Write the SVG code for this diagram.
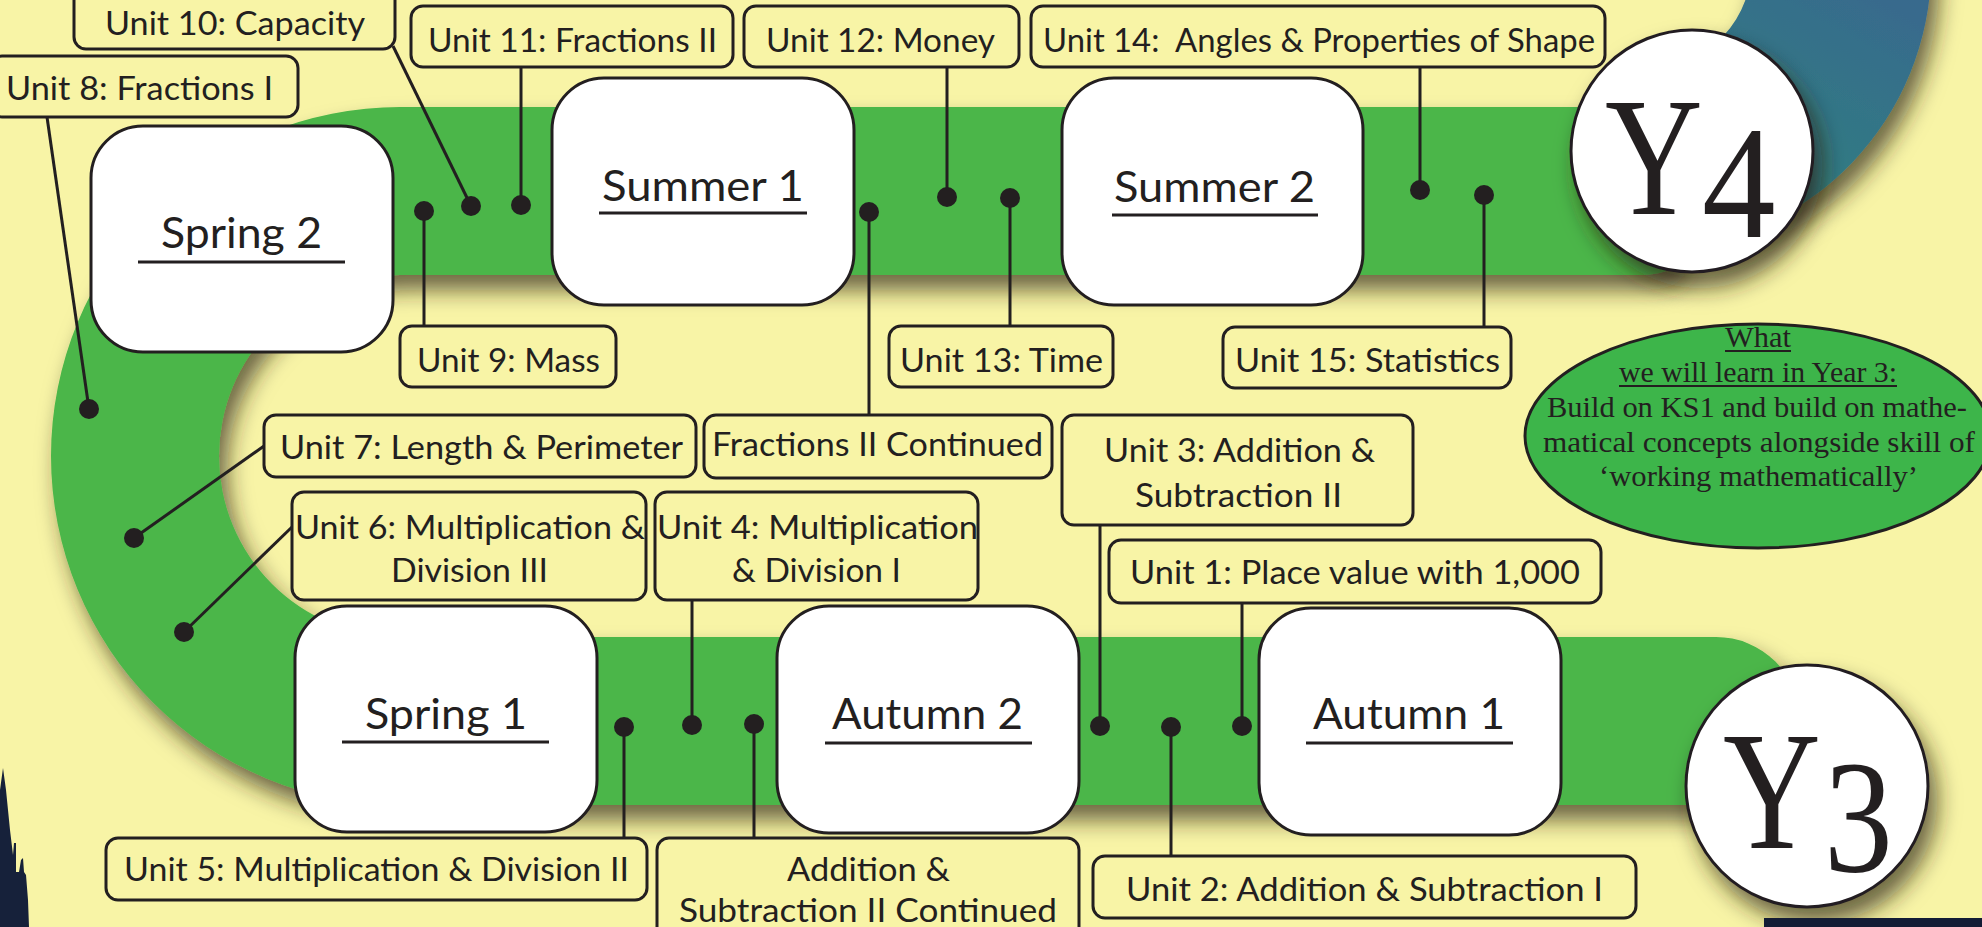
<svg xmlns="http://www.w3.org/2000/svg" width="1982" height="927" viewBox="0 0 1982 927">
<defs>
<style>
.lbl{fill:#F8F4A6;stroke:#231F20;stroke-width:3}
.node{fill:#FFFFFF;stroke:#231F20;stroke-width:3}
.t{font-family:Lato,"Noto Sans",sans-serif;font-size:33px;fill:#231F20}
.nt{font-family:Lato,"Noto Sans",sans-serif;font-size:42px;fill:#231F20}
.ul{stroke:#231F20;stroke-width:3}
.conn line{stroke:#231F20;stroke-width:3}
.dot{fill:#231F20}
.serif{font-family:"Liberation Serif","DejaVu Serif",serif;fill:#231F20}
.yc{fill:#FFFFFF;stroke:#231F20;stroke-width:3}
</style>
<filter id="sh" filterUnits="userSpaceOnUse" x="-100" y="-200" width="2200" height="1300">
<feDropShadow dx="8" dy="15" stdDeviation="11" flood-color="#2a2510" flood-opacity="0.68"/>
</filter>
<linearGradient id="blue" gradientUnits="userSpaceOnUse" x1="1780" y1="220" x2="1900" y2="0">
<stop offset="0" stop-color="#2E8080"/>
<stop offset="1" stop-color="#386A8D"/>
</linearGradient>
</defs>
<rect x="0" y="0" width="1982" height="927" fill="#F8F4A6"/>

<g id="track" filter="url(#sh)">
<path d="M1927,-84 A285,285 0 0 1 1715,242 L1670,66 A103,103 0 0 0 1748,-61 Z" fill="url(#blue)"/>
<path d="M1680,107 L400,107 A349,349 0 0 0 400,805 L1716,805 A84,84 0 0 0 1716,637 L400,637 A181,181 0 0 1 400,275 L1640,275 C1660,275 1672,270 1680,262 Z" fill="#4BB648"/>
</g>

<g id="y4" filter="url(#sh)">
<circle class="yc" cx="1692" cy="151" r="121"/>
</g>
<g id="y4-label">
<text class="serif" font-size="169" transform="translate(1605,214) scale(0.8,1)">Y</text>
<text class="serif" font-size="160" transform="translate(1702,237) scale(0.92,1)">4</text>
</g>
<g id="y3" filter="url(#sh)">
<circle class="yc" cx="1807" cy="786" r="121"/>
</g>
<g id="y3-label">
<text class="serif" font-size="169" transform="translate(1723,848) scale(0.8,1)">Y</text>
<text class="serif" font-size="162" transform="translate(1824,871) scale(0.85,1)">3</text>
</g>

<g id="decor">
<polygon points="0,927 0,790 3,768 6,790 10,830 13,855 14,843 16,843 16,872 19,872 21,860 23,858 24,872 26,875 28,900 29,927" fill="#16213A"/>
<rect x="1764" y="918" width="218" height="9" fill="#131C35"/>
</g>

<g id="connectors" class="conn">
<line x1="424" y1="211" x2="424" y2="326"/>
<line x1="471" y1="206" x2="393" y2="46"/>
<line x1="521" y1="205" x2="521" y2="67"/>
<line x1="869" y1="212" x2="869" y2="415"/>
<line x1="947" y1="197" x2="947" y2="67"/>
<line x1="1010" y1="198" x2="1010" y2="326"/>
<line x1="1420" y1="190" x2="1420" y2="67"/>
<line x1="1484" y1="195" x2="1484" y2="327"/>
<line x1="89" y1="409" x2="47" y2="117"/>
<line x1="134" y1="538" x2="264" y2="446"/>
<line x1="184" y1="632" x2="292" y2="527"/>
<line x1="624" y1="727" x2="624" y2="838"/>
<line x1="692" y1="725" x2="692" y2="600"/>
<line x1="754" y1="724" x2="754" y2="838"/>
<line x1="1100" y1="726" x2="1100" y2="525"/>
<line x1="1171" y1="727" x2="1171" y2="856"/>
<line x1="1242" y1="726" x2="1242" y2="603"/>
<circle class="dot" cx="424" cy="211" r="10"/>
<circle class="dot" cx="471" cy="206" r="10"/>
<circle class="dot" cx="521" cy="205" r="10"/>
<circle class="dot" cx="869" cy="212" r="10"/>
<circle class="dot" cx="947" cy="197" r="10"/>
<circle class="dot" cx="1010" cy="198" r="10"/>
<circle class="dot" cx="1420" cy="190" r="10"/>
<circle class="dot" cx="1484" cy="195" r="10"/>
<circle class="dot" cx="89" cy="409" r="10"/>
<circle class="dot" cx="134" cy="538" r="10"/>
<circle class="dot" cx="184" cy="632" r="10"/>
<circle class="dot" cx="624" cy="727" r="10"/>
<circle class="dot" cx="692" cy="725" r="10"/>
<circle class="dot" cx="754" cy="724" r="10"/>
<circle class="dot" cx="1100" cy="726" r="10"/>
<circle class="dot" cx="1171" cy="727" r="10"/>
<circle class="dot" cx="1242" cy="726" r="10"/>
</g>

<g id="spring2">
<rect class="node" x="91" y="126" width="302" height="226" rx="52"/>
<text class="nt" x="161" y="248" textLength="161" lengthAdjust="spacingAndGlyphs">Spring 2</text>
<line class="ul" x1="138" y1="262" x2="345" y2="262"/>
</g>
<g id="summer1">
<rect class="node" x="552" y="78" width="302" height="227" rx="52"/>
<text class="nt" x="602" y="201" textLength="202" lengthAdjust="spacingAndGlyphs">Summer 1</text>
<line class="ul" x1="599" y1="213" x2="807" y2="213"/>
</g>
<g id="summer2">
<rect class="node" x="1062" y="78" width="301" height="227" rx="52"/>
<text class="nt" x="1114" y="202" textLength="201" lengthAdjust="spacingAndGlyphs">Summer 2</text>
<line class="ul" x1="1112" y1="215" x2="1318" y2="215"/>
</g>
<g id="spring1">
<rect class="node" x="295" y="606" width="302" height="226" rx="52"/>
<text class="nt" x="365" y="729" textLength="162" lengthAdjust="spacingAndGlyphs">Spring 1</text>
<line class="ul" x1="342" y1="742" x2="549" y2="742"/>
</g>
<g id="autumn2">
<rect class="node" x="777" y="606" width="302" height="227" rx="52"/>
<text class="nt" x="832" y="729" textLength="191" lengthAdjust="spacingAndGlyphs">Autumn 2</text>
<line class="ul" x1="825" y1="743" x2="1032" y2="743"/>
</g>
<g id="autumn1">
<rect class="node" x="1259" y="608" width="302" height="227" rx="52"/>
<text class="nt" x="1313" y="729" textLength="192" lengthAdjust="spacingAndGlyphs">Autumn 1</text>
<line class="ul" x1="1306" y1="743" x2="1513" y2="743"/>
</g>

<g id="unit10">
<rect class="lbl" x="74" y="-14" width="321" height="63" rx="12"/>
<text class="t" x="105" y="35" textLength="260" lengthAdjust="spacingAndGlyphs">Unit 10: Capacity</text>
</g>
<g id="unit11">
<rect class="lbl" x="411" y="6" width="322" height="61" rx="12"/>
<text class="t" x="428" y="52" textLength="289" lengthAdjust="spacingAndGlyphs">Unit 11: Fractions II</text>
</g>
<g id="unit12">
<rect class="lbl" x="744" y="6" width="275" height="61" rx="12"/>
<text class="t" x="766" y="52" textLength="229" lengthAdjust="spacingAndGlyphs">Unit 12: Money</text>
</g>
<g id="unit14">
<rect class="lbl" x="1031" y="6" width="574" height="61" rx="12"/>
<text class="t" x="1043" y="52" textLength="552" lengthAdjust="spacingAndGlyphs" xml:space="preserve">Unit 14:  Angles &amp; Properties of Shape</text>
</g>
<g id="unit8">
<rect class="lbl" x="-10" y="56" width="308" height="61" rx="12"/>
<text class="t" x="6" y="100" textLength="267" lengthAdjust="spacingAndGlyphs">Unit 8: Fractions I</text>
</g>
<g id="unit9">
<rect class="lbl" x="400" y="326" width="216" height="61" rx="12"/>
<text class="t" x="417" y="372" textLength="183" lengthAdjust="spacingAndGlyphs">Unit 9: Mass</text>
</g>
<g id="unit13">
<rect class="lbl" x="889" y="326" width="224" height="61" rx="12"/>
<text class="t" x="900" y="372" textLength="203" lengthAdjust="spacingAndGlyphs">Unit 13: Time</text>
</g>
<g id="unit15">
<rect class="lbl" x="1223" y="327" width="288" height="61" rx="12"/>
<text class="t" x="1235" y="372" textLength="265" lengthAdjust="spacingAndGlyphs">Unit 15: Statistics</text>
</g>
<g id="unit7">
<rect class="lbl" x="264" y="415" width="432" height="62" rx="12"/>
<text class="t" x="280" y="459" textLength="403" lengthAdjust="spacingAndGlyphs">Unit 7: Length &amp; Perimeter</text>
</g>
<g id="fractions2cont">
<rect class="lbl" x="704" y="415" width="348" height="63" rx="12"/>
<text class="t" x="712" y="456" textLength="331" lengthAdjust="spacingAndGlyphs">Fractions II Continued</text>
</g>
<g id="unit3">
<rect class="lbl" x="1062" y="415" width="351" height="110" rx="12"/>
<text class="t" x="1104" y="462" textLength="271" lengthAdjust="spacingAndGlyphs">Unit 3: Addition &amp;</text>
<text class="t" x="1135" y="507" textLength="207" lengthAdjust="spacingAndGlyphs">Subtraction II</text>
</g>
<g id="unit6">
<rect class="lbl" x="292" y="492" width="354" height="108" rx="12"/>
<text class="t" x="295" y="539" textLength="350" lengthAdjust="spacingAndGlyphs">Unit 6: Multiplication &amp;</text>
<text class="t" x="391" y="582" textLength="157" lengthAdjust="spacingAndGlyphs">Division III</text>
</g>
<g id="unit4">
<rect class="lbl" x="655" y="492" width="323" height="108" rx="12"/>
<text class="t" x="657" y="539" textLength="321" lengthAdjust="spacingAndGlyphs">Unit 4: Multiplication</text>
<text class="t" x="732" y="582" textLength="169" lengthAdjust="spacingAndGlyphs">&amp; Division I</text>
</g>
<g id="unit1">
<rect class="lbl" x="1109" y="540" width="492" height="63" rx="12"/>
<text class="t" x="1130" y="584" textLength="450" lengthAdjust="spacingAndGlyphs">Unit 1: Place value with 1,000</text>
</g>
<g id="unit5">
<rect class="lbl" x="106" y="838" width="541" height="62" rx="12"/>
<text class="t" x="124" y="881" textLength="505" lengthAdjust="spacingAndGlyphs">Unit 5: Multiplication &amp; Division II</text>
</g>
<g id="addsub2cont">
<rect class="lbl" x="657" y="838" width="422" height="110" rx="12"/>
<text class="t" x="787" y="881" textLength="163" lengthAdjust="spacingAndGlyphs">Addition &amp;</text>
<text class="t" x="679" y="922" textLength="378" lengthAdjust="spacingAndGlyphs">Subtraction II Continued</text>
</g>
<g id="unit2">
<rect class="lbl" x="1093" y="856" width="543" height="62" rx="12"/>
<text class="t" x="1126" y="901" textLength="477" lengthAdjust="spacingAndGlyphs">Unit 2: Addition &amp; Subtraction I</text>
</g>

<g id="summary">
<ellipse cx="1758" cy="436" rx="233" ry="112" fill="#3DB54A" stroke="#231F20" stroke-width="3"/>
<text class="serif" font-size="30" x="1725" y="347" textLength="66" lengthAdjust="spacingAndGlyphs">What</text>
<line class="ul" x1="1725" y1="351" x2="1791" y2="351" style="stroke-width:2"/>
<text class="serif" font-size="30" x="1619" y="382" textLength="278" lengthAdjust="spacingAndGlyphs">we will learn in Year 3:</text>
<line class="ul" x1="1619" y1="386" x2="1897" y2="386" style="stroke-width:2"/>
<text class="serif" font-size="30" x="1547" y="417" textLength="420" lengthAdjust="spacingAndGlyphs">Build on KS1 and build on mathe-</text>
<text class="serif" font-size="30" x="1543" y="452" textLength="432" lengthAdjust="spacingAndGlyphs">matical concepts alongside skill of</text>
<text class="serif" font-size="30" x="1599" y="486" textLength="319" lengthAdjust="spacingAndGlyphs">‘working mathematically’</text>
</g>
</svg>
